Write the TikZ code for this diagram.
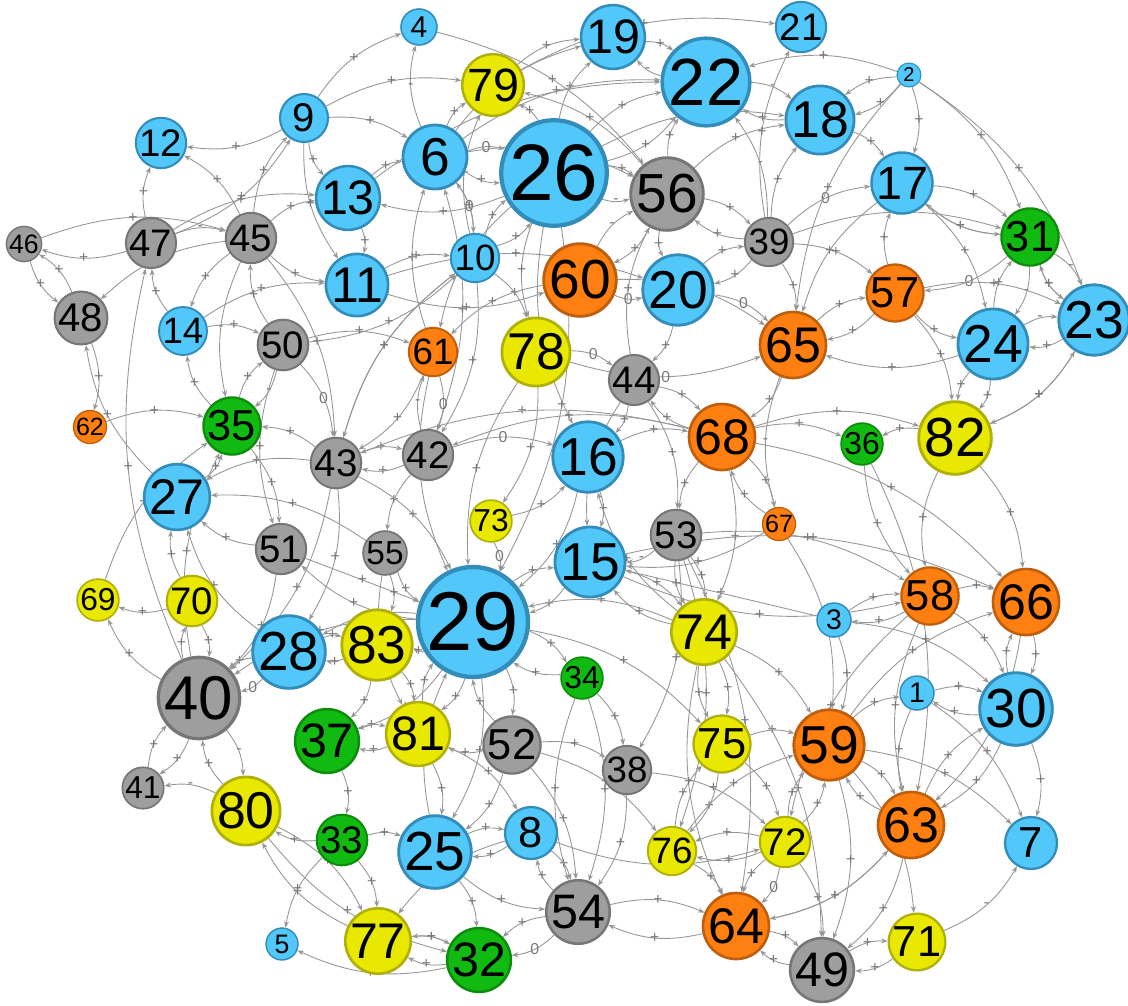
\documentclass[tikz,border=0pt]{standalone}
\usepackage{fontspec}
\setmainfont{Liberation Sans}
\usetikzlibrary{arrows.meta,backgrounds}
\definecolor{azulrelleno}{RGB}{82,200,250}
\definecolor{azulborde}{RGB}{52,140,185}
\definecolor{grisrelleno}{RGB}{158,158,158}
\definecolor{grisborde}{RGB}{118,118,118}
\definecolor{verderelleno}{RGB}{16,186,16}
\definecolor{verdeborde}{RGB}{14,140,14}
\definecolor{amarillorelleno}{RGB}{232,232,0}
\definecolor{amarilloborde}{RGB}{176,176,10}
\definecolor{naranjarelleno}{RGB}{255,128,16}
\definecolor{naranjaborde}{RGB}{190,95,15}
\definecolor{aristagris}{RGB}{150,150,150}
\definecolor{signogris}{RGB}{120,120,120}
\begin{document}
\begin{tikzpicture}[
        x=0.02cm, y=-0.02cm,
        nodo/.style={circle, inner sep=0pt, minimum size=#1*0.04cm, line width=#1*0.05pt,
            font={\pgfmathsetmacro\tam{0.95*#1}\fontsize{\tam}{\tam}\selectfont}},
        azul/.style={nodo=#1, fill=azulrelleno, draw=azulborde},
        gris/.style={nodo=#1, fill=grisrelleno, draw=grisborde},
        verde/.style={nodo=#1, fill=verderelleno, draw=verdeborde},
        amarillo/.style={nodo=#1, fill=amarillorelleno, draw=amarilloborde},
        naranja/.style={nodo=#1, fill=naranjarelleno, draw=naranjaborde},
        flecha/.style={draw=aristagris, line width=0.5pt, -{Stealth[length=1.3mm,width=1mm]}},
        izq/.style={bend left=18},
        der/.style={bend right=18},
        signo/.style={font=\fontsize{9}{9}\selectfont, text=signogris, inner sep=0.5pt}
    ]
        \useasboundingbox (0,0) rectangle (1128,1005);

        \node[azul=17] (n1) at (917,693) {1};
        \node[azul=12] (n2) at (909,75) {2};
        \node[azul=17] (n3) at (834,620) {3};
        \node[azul=18] (n4) at (419,27) {4};
        \node[azul=16] (n5) at (282,944) {5};
        \node[azul=32] (n6) at (435,157) {6};
        \node[azul=26] (n7) at (1031,843) {7};
        \node[azul=26] (n8) at (531,833) {8};
        \node[azul=24] (n9) at (304,118) {9};
        \node[azul=22] (n10) at (475,258) {10};
        \node[azul=30] (n11) at (357,285) {11};
        \node[azul=23] (n12) at (161,143) {12};
        \node[azul=29] (n13) at (348,198) {13};
        \node[azul=22] (n14) at (183,331) {14};
        \node[azul=32] (n15) at (590,562) {15};
        \node[azul=32] (n16) at (588,457) {16};
        \node[azul=28] (n17) at (902,183) {17};
        \node[azul=31] (n18) at (820,120) {18};
        \node[azul=29] (n19) at (613,37) {19};
        \node[azul=32] (n20) at (678,290) {20};
        \node[azul=23] (n21) at (801,27) {21};
        \node[azul=40] (n22) at (706,82) {22};
        \node[azul=32] (n23) at (1094,320) {23};
        \node[azul=32] (n24) at (993,344) {24};
        \node[azul=33] (n25) at (435,852) {25};
        \node[azul=48] (n26) at (554,173) {26};
        \node[azul=30] (n27) at (177,497) {27};
        \node[azul=33] (n28) at (289,652) {28};
        \node[azul=50] (n29) at (473,622) {29};
        \node[azul=33] (n30) at (1016,709) {30};

        \node[verde=26] (n31) at (1030,237) {31};
        \node[verde=29] (n32) at (479,960) {32};
        \node[verde=23] (n33) at (342,840) {33};
        \node[verde=19] (n34) at (582,678) {34};
        \node[verde=26] (n35) at (232,426) {35};
        \node[verde=19] (n36) at (862,444) {36};
        \node[verde=29] (n37) at (327,741) {37};

        \node[gris=22] (n38) at (627,770) {38};
        \node[gris=22] (n39) at (769,242) {39};
        \node[gris=37] (n40) at (199,698) {40};
        \node[gris=19] (n41) at (143,788) {41};
        \node[gris=23] (n42) at (428,455) {42};
        \node[gris=23] (n43) at (336,463) {43};
        \node[gris=23] (n44) at (634,380) {44};
        \node[gris=23] (n45) at (251,238) {45};
        \node[gris=16] (n46) at (24,244) {46};
        \node[gris=23] (n47) at (151,243) {47};
        \node[gris=24] (n48) at (81,318) {48};
        \node[gris=29] (n49) at (822,970) {49};
        \node[gris=23] (n50) at (283,345) {50};
        \node[gris=23] (n51) at (281,549) {51};
        \node[gris=26] (n52) at (512,745) {52};
        \node[gris=23] (n53) at (676,535) {53};
        \node[gris=29] (n54) at (578,912) {54};
        \node[gris=20] (n55) at (385,553) {55};
        \node[gris=33] (n56) at (667,194) {56};

        \node[naranja=26] (n57) at (895,293) {57};
        \node[naranja=26] (n58) at (930,596) {58};
        \node[naranja=32] (n59) at (829,745) {59};
        \node[naranja=33] (n60) at (580,280) {60};
        \node[naranja=22] (n61) at (433,352) {61};
        \node[naranja=15] (n62) at (90,427) {62};
        \node[naranja=30] (n63) at (911,825) {63};
        \node[naranja=30] (n64) at (736,926) {64};
        \node[naranja=30] (n65) at (793,345) {65};
        \node[naranja=30] (n66) at (1026,602) {66};
        \node[naranja=15] (n67) at (779,524) {67};
        \node[naranja=30] (n68) at (722,437) {68};

        \node[amarillo=19] (n69) at (98,600) {69};
        \node[amarillo=23] (n70) at (192,601) {70};
        \node[amarillo=26] (n71) at (917,942) {71};
        \node[amarillo=23] (n72) at (785,842) {72};
        \node[amarillo=19] (n73) at (491,521) {73};
        \node[amarillo=30] (n74) at (704,632) {74};
        \node[amarillo=26] (n75) at (722,744) {75};
        \node[amarillo=22] (n76) at (672,851) {76};
        \node[amarillo=30] (n77) at (378,941) {77};
        \node[amarillo=31] (n78) at (536,352) {78};
        \node[amarillo=28] (n79) at (493,85) {79};
        \node[amarillo=31] (n80) at (246,811) {80};
        \node[amarillo=29] (n81) at (418,734) {81};
        \node[amarillo=33] (n82) at (955,438) {82};
        \node[amarillo=32] (n83) at (377,645) {83};

        \begin{pgfonlayer}{background}
        \draw[flecha,izq] (n9) to node[signo]{+} (n12);
        \draw[flecha,der] (n47) to node[signo]{+} (n9);
        \draw[flecha,izq] (n47) to node[signo]{+} (n12);
        \draw[flecha,der] (n45) to node[signo]{+} (n12);
        \draw[flecha,izq] (n46) to node[signo]{+} (n45);
        \draw[flecha,izq] (n47) to node[signo]{-} (n45);
        \draw[flecha,izq] (n47) to node[signo]{+} (n46);
        \draw[flecha,der] (n46) to node[signo]{+} (n48);
        \draw[flecha,der] (n48) to node[signo]{+} (n46);
        \draw[flecha,der] (n45) to node[signo]{+} (n48);
        \draw[flecha,der] (n45) to node[signo]{+} (n14);
        \draw[flecha,izq] (n45) to node[signo]{+} (n9);
        \draw[flecha,izq] (n40) to node[signo]{+} (n47);
        \draw[flecha,izq] (n14) to node[signo]{+} (n47);
        \draw[flecha,izq] (n45) to node[signo]{+} (n13);
        \draw[flecha,der] (n45) to node[signo]{+} (n11);
        \draw[flecha,izq] (n14) to node[signo]{+} (n11);
        \draw[flecha,izq] (n47) to node[signo]{+} (n13);
        \draw[flecha,izq] (n50) to node[signo]{+} (n45);
        \draw[flecha,der] (n45) to node[signo]{-} (n35);
        \draw[flecha,izq] (n45) to node[signo]{+} (n43);

        \draw[flecha,izq] (n9) to node[signo]{+} (n4);
        \draw[flecha,izq] (n9) to node[signo]{+} (n79);
        \draw[flecha,izq] (n9) to node[signo]{+} (n6);
        \draw[flecha,der] (n9) to node[signo]{+} (n13);
        \draw[flecha,der] (n9) to node[signo]{+} (n11);
        \draw[flecha,izq] (n6) to node[signo]{-} (n4);
        \draw[flecha,izq] (n4) to node[signo]{+} (n56);
        \draw[flecha,izq] (n6) to node[signo]{+} (n79);
        \draw[flecha,izq] (n10) to node[signo]{+} (n79);
        \draw[flecha,der] (n26) to node[signo]{+} (n79);
        \draw[flecha,der] (n56) to node[signo]{+} (n79);
        \draw[flecha,izq] (n79) to node[signo]{+} (n19);
        \draw[flecha,izq] (n6) to node[signo]{0} (n26);
        \draw[flecha,der] (n6) to node[signo]{+} (n26);
        \draw[flecha,izq] (n26) to node[signo]{+} (n13);
        \draw[flecha,der] (n10) to node[signo]{0} (n6);
        \draw[flecha,izq] (n61) to node[signo]{+} (n6);
        \draw[flecha,der] (n42) to node[signo]{+} (n6);
        \draw[flecha,izq] (n6) to node[signo]{+} (n10);
        \draw[flecha,izq] (n13) to node[signo]{+} (n11);
        \draw[flecha,izq] (n13) to node[signo]{+} (n6);
        \draw[flecha,izq] (n11) to node[signo]{+} (n10);
        \draw[flecha,der] (n10) to node[signo]{+} (n26);
        \draw[flecha,izq] (n10) to node[signo]{+} (n26);
        \draw[flecha,izq] (n43) to node[signo]{+} (n10);
        \draw[flecha,der] (n50) to node[signo]{+} (n10);
        \draw[flecha,izq] (n10) to node[signo]{+} (n78);
        \draw[flecha,der] (n11) to node[signo]{+} (n60);
        \draw[flecha,izq] (n11) to node[signo]{+} (n20);

        \draw[flecha,izq] (n6) to node[signo]{+} (n19);
        \draw[flecha,izq] (n26) to node[signo]{+} (n19);
        \draw[flecha,izq] (n19) to node[signo]{+} (n22);
        \draw[flecha,izq] (n22) to node[signo]{-} (n19);
        \draw[flecha,izq] (n26) to node[signo]{+} (n22);
        \draw[flecha,der] (n26) to node[signo]{+} (n22);
        \draw[flecha,izq] (n6) to node[signo]{+} (n22);
        \draw[flecha,izq] (n13) to node[signo]{+} (n22);
        \draw[flecha,izq] (n79) to node[signo]{+} (n21);
        \draw[flecha,izq] (n22) to node[signo]{-} (n18);
        \draw[flecha,izq] (n18) to node[signo]{+} (n22);
        \draw[flecha,izq] (n26) to node[signo]{-} (n18);
        \draw[flecha,izq] (n56) to node[signo]{+} (n22);
        \draw[flecha,der] (n39) to node[signo]{-} (n22);
        \draw[flecha,izq] (n56) to node[signo]{+} (n18);
        \draw[flecha,izq] (n39) to node[signo]{+} (n18);
        \draw[flecha,izq] (n39) to node[signo]{+} (n21);
        \draw[flecha,izq] (n39) to node[signo]{0} (n17);
        \draw[flecha,izq] (n39) to node[signo]{+} (n31);
        \draw[flecha,izq] (n56) to node[signo]{+} (n39);
        \draw[flecha,izq] (n39) to node[signo]{+} (n56);
        \draw[flecha,izq] (n26) to node[signo]{+} (n56);
        \draw[flecha,der] (n26) to node[signo]{-} (n56);
        \draw[flecha,der] (n56) to node[signo]{+} (n20);
        \draw[flecha,izq] (n39) to node[signo]{+} (n20);
        \draw[flecha,izq] (n20) to node[signo]{+} (n39);
        \draw[flecha,izq] (n60) to node[signo]{-} (n56);
        \draw[flecha,izq] (n56) to node[signo]{+} (n60);
        \draw[flecha,der] (n60) to node[signo]{0} (n20);
        \draw[flecha,izq] (n39) to node[signo]{+} (n65);
        \draw[flecha,izq] (n20) to node[signo]{0} (n65);
        \draw[flecha,izq] (n6) to node[signo]{+} (n56);

        \draw[flecha,izq] (n2) to node[signo]{+} (n18);
        \draw[flecha,der] (n2) to node[signo]{+} (n18);
        \draw[flecha,der] (n2) to node[signo]{+} (n22);
        \draw[flecha,izq] (n2) to node[signo]{+} (n17);
        \draw[flecha,der] (n2) to node[signo]{+} (n65);
        \draw[flecha,izq] (n2) to node[signo]{+} (n31);
        \draw[flecha,izq] (n2) to node[signo]{+} (n23);
        \draw[flecha,izq] (n18) to node[signo]{+} (n17);
        \draw[flecha,izq] (n17) to node[signo]{+} (n31);
        \draw[flecha,der] (n17) to node[signo]{+} (n31);
        \draw[flecha,izq] (n31) to node[signo]{+} (n17);
        \draw[flecha,izq] (n57) to node[signo]{+} (n17);
        \draw[flecha,izq] (n17) to node[signo]{+} (n24);
        \draw[flecha,izq] (n39) to node[signo]{+} (n57);
        \draw[flecha,izq] (n31) to node[signo]{0} (n57);
        \draw[flecha,der] (n57) to node[signo]{+} (n24);
        \draw[flecha,izq] (n24) to node[signo]{+} (n31);
        \draw[flecha,izq] (n31) to node[signo]{-} (n24);
        \draw[flecha,izq] (n31) to node[signo]{-} (n23);
        \draw[flecha,der] (n31) to node[signo]{+} (n23);
        \draw[flecha,izq] (n23) to node[signo]{+} (n31);
        \draw[flecha,izq] (n57) to node[signo]{+} (n23);
        \draw[flecha,izq] (n24) to node[signo]{-} (n23);
        \draw[flecha,izq] (n23) to node[signo]{+} (n24);
        \draw[flecha,izq] (n23) to node[signo]{+} (n82);
        \draw[flecha,izq] (n24) to node[signo]{+} (n82);
        \draw[flecha,der] (n24) to node[signo]{+} (n82);
        \draw[flecha,der] (n82) to node[signo]{+} (n23);
        \draw[flecha,izq] (n57) to node[signo]{+} (n82);
        \draw[flecha,der] (n82) to node[signo]{+} (n36);
        \draw[flecha,izq] (n68) to node[signo]{+} (n82);
        \draw[flecha,der] (n82) to node[signo]{+} (n58);
        \draw[flecha,izq] (n82) to node[signo]{+} (n66);
        \draw[flecha,izq] (n68) to node[signo]{+} (n66);
        \draw[flecha,izq] (n58) to node[signo]{+} (n66);
        \draw[flecha,izq] (n58) to node[signo]{+} (n3);
        \draw[flecha,izq] (n3) to node[signo]{+} (n58);
        \draw[flecha,izq] (n59) to node[signo]{+} (n66);
        \draw[flecha,izq] (n66) to node[signo]{+} (n30);
        \draw[flecha,izq] (n30) to node[signo]{+} (n66);
        \draw[flecha,izq] (n24) to node[signo]{+} (n65);
        \draw[flecha,izq] (n65) to node[signo]{+} (n57);
        \draw[flecha,izq] (n57) to node[signo]{+} (n65);
        \draw[flecha,izq] (n36) to node[signo]{+} (n63);
        \draw[flecha,der] (n36) to node[signo]{+} (n58);
        \draw[flecha,der] (n17) to node[signo]{+} (n65);

        \draw[flecha,izq] (n44) to node[signo]{+} (n68);
        \draw[flecha,izq] (n68) to node[signo]{+} (n44);
        \draw[flecha,izq] (n65) to node[signo]{+} (n68);
        \draw[flecha,izq] (n68) to node[signo]{+} (n36);
        \draw[flecha,der] (n68) to node[signo]{+} (n53);
        \draw[flecha,izq] (n44) to node[signo]{+} (n53);
        \draw[flecha,izq] (n68) to node[signo]{+} (n67);
        \draw[flecha,izq] (n67) to node[signo]{+} (n68);
        \draw[flecha,izq] (n16) to node[signo]{+} (n15);
        \draw[flecha,der] (n44) to node[signo]{+} (n15);
        \draw[flecha,izq] (n44) to node[signo]{+} (n16);
        \draw[flecha,izq] (n53) to node[signo]{-} (n15);
        \draw[flecha,izq] (n74) to node[signo]{+} (n16);
        \draw[flecha] (n3) to node[signo]{+} (n15);
        \draw[flecha,izq] (n67) to node[signo]{+} (n15);
        \draw[flecha,izq] (n68) to node[signo]{+} (n74);
        \draw[flecha,izq] (n53) to node[signo]{+} (n74);
        \draw[flecha,der] (n53) to node[signo]{+} (n74);
        \draw[flecha,izq] (n60) to node[signo]{0} (n65);
        \draw[flecha,der] (n78) to node[signo]{0} (n65);
        \draw[flecha,izq] (n78) to node[signo]{0} (n44);
        \draw[flecha,izq] (n20) to node[signo]{+} (n44);
        \draw[flecha,izq] (n44) to node[signo]{+} (n56);
        \draw[flecha,der] (n65) to node[signo]{-} (n67);
        \draw[flecha,izq] (n74) to node[signo]{+} (n59);
        \draw[flecha,izq] (n67) to node[signo]{-} (n59);
        \draw[flecha,der] (n15) to node[signo]{+} (n58);
        \draw[flecha,izq] (n15) to node[signo]{+} (n66);
        \draw[flecha,izq] (n53) to node[signo]{+} (n58);
        \draw[flecha,izq] (n16) to node[signo]{+} (n68);

        \draw[flecha,izq] (n61) to node[signo]{0} (n42);
        \draw[flecha,izq] (n42) to node[signo]{-} (n61);
        \draw[flecha,izq] (n61) to node[signo]{+} (n43);
        \draw[flecha,der] (n61) to node[signo]{+} (n29);
        \draw[flecha,izq] (n50) to node[signo]{0} (n43);
        \draw[flecha,izq] (n50) to node[signo]{+} (n61);
        \draw[flecha,izq] (n43) to node[signo]{+} (n42);
        \draw[flecha,izq] (n42) to node[signo]{+} (n43);
        \draw[flecha,der] (n42) to node[signo]{+} (n55);
        \draw[flecha,izq] (n43) to node[signo]{+} (n29);
        \draw[flecha] (n51) to node[signo]{+} (n29);
        \draw[flecha,der] (n55) to node[signo]{+} (n29);
        \draw[flecha,izq] (n73) to node[signo]{0} (n29);
        \draw[flecha,der] (n73) to node[signo]{+} (n16);
        \draw[flecha,izq] (n42) to node[signo]{0} (n16);
        \draw[flecha,izq] (n29) to node[signo]{+} (n51);
        \draw[flecha,izq] (n29) to node[signo]{+} (n83);
        \draw[flecha,der] (n29) to node[signo]{+} (n28);
        \draw[flecha,izq] (n43) to node[signo]{+} (n28);
        \draw[flecha,izq] (n55) to node[signo]{+} (n83);
        \draw[flecha,der] (n55) to node[signo]{+} (n81);
        \draw[flecha,izq] (n78) to node[signo]{+} (n73);
        \draw[flecha,der] (n78) to node[signo]{+} (n29);
        \draw[flecha,izq] (n26) to node[signo]{+} (n29);
        \draw[flecha,der] (n26) to node[signo]{+} (n78);
        \draw[flecha,der] (n26) to node[signo]{+} (n61);
        \draw[flecha,der] (n26) to node[signo]{+} (n16);
        \draw[flecha,der] (n60) to node[signo]{+} (n61);
        \draw[flecha,izq] (n10) to node[signo]{+} (n42);
        \draw[flecha,der] (n10) to node[signo]{+} (n43);
        \draw[flecha,der] (n68) to node[signo]{+} (n43);
        \draw[flecha,der] (n68) to node[signo]{+} (n42);

        \draw[flecha,izq] (n48) to node[signo]{+} (n62);
        \draw[flecha,izq] (n27) to node[signo]{+} (n48);
        \draw[flecha,izq] (n62) to node[signo]{+} (n35);
        \draw[flecha,izq] (n35) to node[signo]{+} (n14);
        \draw[flecha,der] (n27) to node[signo]{+} (n35);
        \draw[flecha,izq] (n69) to node[signo]{+} (n35);
        \draw[flecha,izq] (n70) to node[signo]{+} (n27);
        \draw[flecha,izq] (n70) to node[signo]{+} (n69);
        \draw[flecha,izq] (n40) to node[signo]{+} (n69);
        \draw[flecha,izq] (n51) to node[signo]{+} (n27);
        \draw[flecha,der] (n43) to node[signo]{+} (n27);
        \draw[flecha,der] (n55) to node[signo]{+} (n27);
        \draw[flecha,izq] (n28) to node[signo]{+} (n27);
        \draw[flecha,izq] (n50) to node[signo]{-} (n35);
        \draw[flecha,der] (n43) to node[signo]{+} (n35);
        \draw[flecha,izq] (n40) to node[signo]{+} (n35);
        \draw[flecha,izq] (n35) to node[signo]{+} (n50);
        \draw[flecha,izq] (n14) to node[signo]{+} (n50);
        \draw[flecha,izq] (n41) to node[signo]{+} (n40);
        \draw[flecha,izq] (n40) to node[signo]{+} (n41);
        \draw[flecha,der] (n80) to node[signo]{-} (n41);
        \draw[flecha,izq] (n80) to node[signo]{+} (n40);
        \draw[flecha,izq] (n40) to node[signo]{-} (n80);
        \draw[flecha,izq] (n28) to node[signo]{0} (n40);
        \draw[flecha,der] (n28) to node[signo]{+} (n40);
        \draw[flecha,izq] (n33) to node[signo]{+} (n80);
        \draw[flecha,izq] (n80) to node[signo]{+} (n77);
        \draw[flecha,izq] (n77) to node[signo]{+} (n80);
        \draw[flecha,izq] (n51) to node[signo]{+} (n40);
        \draw[flecha,izq] (n43) to node[signo]{+} (n40);
        \draw[flecha,izq] (n70) to node[signo]{+} (n40);
        \draw[flecha,izq] (n40) to node[signo]{+} (n70);
        \draw[flecha,izq] (n83) to node[signo]{+} (n28);
        \draw[flecha,izq] (n28) to node[signo]{+} (n83);
        \draw[flecha,der] (n29) to node[signo]{+} (n40);
        \draw[flecha,izq] (n35) to node[signo]{+} (n51);
        \draw[flecha,der] (n50) to node[signo]{+} (n51);

        \draw[flecha,izq] (n37) to node[signo]{+} (n81);
        \draw[flecha,izq] (n81) to node[signo]{+} (n37);
        \draw[flecha,izq] (n52) to node[signo]{+} (n81);
        \draw[flecha,izq] (n81) to node[signo]{+} (n25);
        \draw[flecha,izq] (n33) to node[signo]{+} (n25);
        \draw[flecha,izq] (n52) to node[signo]{+} (n25);
        \draw[flecha,izq] (n8) to node[signo]{+} (n25);
        \draw[flecha,izq] (n25) to node[signo]{+} (n8);
        \draw[flecha,izq] (n81) to node[signo]{+} (n8);
        \draw[flecha,izq] (n33) to node[signo]{+} (n77);
        \draw[flecha,izq] (n37) to node[signo]{+} (n33);
        \draw[flecha,der] (n33) to node[signo]{+} (n5);
        \draw[flecha,izq] (n32) to node[signo]{+} (n5);
        \draw[flecha,izq] (n77) to node[signo]{+} (n32);
        \draw[flecha,izq] (n32) to node[signo]{+} (n77);
        \draw[flecha,der] (n32) to node[signo]{+} (n77);
        \draw[flecha,izq] (n54) to node[signo]{0} (n32);
        \draw[flecha,der] (n54) to node[signo]{+} (n32);
        \draw[flecha,izq] (n25) to node[signo]{+} (n32);
        \draw[flecha,der] (n25) to node[signo]{+} (n54);
        \draw[flecha,der] (n8) to node[signo]{+} (n77);
        \draw[flecha,der] (n80) to node[signo]{+} (n32);
        \draw[flecha,izq] (n83) to node[signo]{+} (n37);
        \draw[flecha,izq] (n83) to node[signo]{+} (n81);
        \draw[flecha,izq] (n29) to node[signo]{+} (n81);
        \draw[flecha,izq] (n81) to node[signo]{+} (n29);
        \draw[flecha,izq] (n29) to node[signo]{+} (n52);
        \draw[flecha,izq] (n52) to node[signo]{+} (n29);
        \draw[flecha,izq] (n52) to node[signo]{+} (n54);
        \draw[flecha,izq] (n38) to node[signo]{+} (n54);
        \draw[flecha,izq] (n52) to node[signo]{+} (n38);
        \draw[flecha,izq] (n29) to node[signo]{+} (n37);
        \draw[flecha,izq] (n25) to node[signo]{+} (n29);
        \draw[flecha,izq] (n29) to node[signo]{+} (n25);
        \draw[flecha,izq] (n54) to node[signo]{+} (n8);
        \draw[flecha,izq] (n8) to node[signo]{+} (n54);
        \draw[flecha,izq] (n29) to node[signo]{+} (n34);
        \draw[flecha,izq] (n34) to node[signo]{+} (n29);
        \draw[flecha,izq] (n34) to node[signo]{+} (n38);
        \draw[flecha,izq] (n34) to node[signo]{+} (n54);
        \draw[flecha,der] (n34) to node[signo]{+} (n54);
        \draw[flecha,izq] (n29) to node[signo]{+} (n15);
        \draw[flecha,izq] (n15) to node[signo]{+} (n29);
        \draw[flecha,izq] (n16) to node[signo]{+} (n29);
        \draw[flecha,der] (n74) to node[signo]{+} (n29);
        \draw[flecha,izq] (n15) to node[signo]{+} (n74);
        \draw[flecha,izq] (n74) to node[signo]{+} (n15);
        \draw[flecha,izq] (n74) to node[signo]{+} (n75);
        \draw[flecha,der] (n74) to node[signo]{+} (n75);
        \draw[flecha,izq] (n75) to node[signo]{+} (n59);
        \draw[flecha,izq] (n29) to node[signo]{+} (n75);
        \draw[flecha,izq] (n38) to node[signo]{+} (n72);
        \draw[flecha,izq] (n75) to node[signo]{+} (n76);
        \draw[flecha,izq] (n76) to node[signo]{+} (n75);
        \draw[flecha,izq] (n72) to node[signo]{+} (n76);
        \draw[flecha,der] (n72) to node[signo]{+} (n76);
        \draw[flecha,izq] (n72) to node[signo]{+} (n59);
        \draw[flecha,der] (n72) to node[signo]{+} (n59);
        \draw[flecha,izq] (n76) to node[signo]{+} (n64);
        \draw[flecha,izq] (n72) to node[signo]{0} (n64);
        \draw[flecha,der] (n72) to node[signo]{+} (n64);
        \draw[flecha,izq] (n64) to node[signo]{+} (n54);
        \draw[flecha,izq] (n54) to node[signo]{+} (n64);
        \draw[flecha,izq] (n49) to node[signo]{+} (n64);
        \draw[flecha,izq] (n64) to node[signo]{+} (n49);
        \draw[flecha,izq] (n72) to node[signo]{+} (n49);
        \draw[flecha,izq] (n75) to node[signo]{+} (n72);
        \draw[flecha,izq] (n76) to node[signo]{+} (n59);
        \draw[flecha,izq] (n52) to node[signo]{+} (n76);
        \draw[flecha,der] (n8) to node[signo]{+} (n72);
        \draw[flecha,izq] (n53) to node[signo]{+} (n38);
        \draw[flecha,izq] (n53) to node[signo]{+} (n64);
        \draw[flecha,der] (n74) to node[signo]{+} (n64);
        \draw[flecha,izq] (n53) to node[signo]{+} (n76);
        \draw[flecha,izq] (n3) to node[signo]{+} (n59);
        \draw[flecha,izq] (n74) to node[signo]{+} (n49);
        \draw[flecha,izq] (n59) to node[signo]{+} (n49);

        \draw[flecha,izq] (n1) to node[signo]{+} (n30);
        \draw[flecha,izq] (n58) to node[signo]{+} (n30);
        \draw[flecha,izq] (n30) to node[signo]{+} (n1);
        \draw[flecha,izq] (n1) to node[signo]{+} (n7);
        \draw[flecha,izq] (n30) to node[signo]{+} (n7);
        \draw[flecha,izq] (n59) to node[signo]{+} (n7);
        \draw[flecha,izq] (n30) to node[signo]{+} (n63);
        \draw[flecha,izq] (n63) to node[signo]{+} (n30);
        \draw[flecha,der] (n1) to node[signo]{+} (n63);
        \draw[flecha,izq] (n59) to node[signo]{+} (n1);
        \draw[flecha,izq] (n59) to node[signo]{+} (n63);
        \draw[flecha,izq] (n63) to node[signo]{+} (n59);
        \draw[flecha,der] (n71) to node[signo]{-} (n7);
        \draw[flecha,izq] (n59) to node[signo]{+} (n71);
        \draw[flecha,izq] (n49) to node[signo]{+} (n71);
        \draw[flecha,izq] (n71) to node[signo]{+} (n49);
        \draw[flecha,izq] (n63) to node[signo]{+} (n49);
        \draw[flecha,der] (n64) to node[signo]{+} (n63);
        \draw[flecha,izq] (n63) to node[signo]{+} (n64);
        \draw[flecha,der] (n58) to node[signo]{+} (n63);
        \draw[flecha,izq] (n66) to node[signo]{+} (n63);
        \draw[flecha,der] (n58) to node[signo]{+} (n72);
        \draw[flecha,izq] (n3) to node[signo]{+} (n30);
        \end{pgfonlayer}
    \end{tikzpicture}
\end{document}
